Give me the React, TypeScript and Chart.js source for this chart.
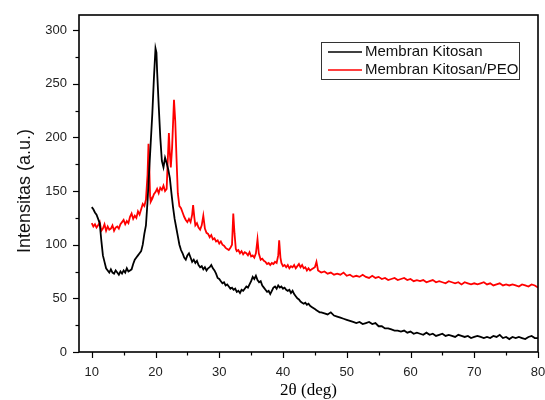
import React, { useEffect, useRef } from "react";
import { Chart, registerables } from "chart.js";

Chart.register(...registerables);

const angleTicks = [10, 20, 30, 40, 50, 60, 70, 80];
const intensityTicks = [0, 50, 100, 150, 200, 250, 300];
const seriesNames = ["Membran Kitosan", "Membran Kitosan/PEO"];

const kitosan: [number, number][] = [
  [10, 135], [10.25, 133], [10.5, 130], [10.75, 128], [11, 124], [11.25, 120], [11.5, 104], [11.75, 90],
  [12, 84], [12.25, 78], [12.5, 76], [12.75, 74], [13, 77], [13.25, 74], [13.5, 73], [13.75, 76],
  [14, 74], [14.25, 72], [14.5, 75], [14.75, 73], [15, 76], [15.25, 74], [15.5, 78], [15.75, 75],
  [16, 76], [16.25, 77], [16.5, 82], [16.75, 86], [17, 88], [17.25, 90], [17.5, 92], [17.75, 94],
  [18, 100], [18.25, 110], [18.5, 118], [18.75, 140], [19, 168], [19.25, 195], [19.5, 222], [19.75, 255],
  [20, 283], [20.15, 279], [20.25, 262], [20.5, 230], [20.75, 200], [21, 178], [21.25, 172], [21.5, 181],
  [21.75, 176], [22, 170], [22.25, 162], [22.5, 148], [22.75, 135], [23, 124], [23.25, 116], [23.5, 108],
  [23.75, 100], [24, 95], [24.25, 92], [24.5, 88], [24.75, 86], [25, 90], [25.25, 92], [25.5, 88],
  [25.75, 84], [26, 86], [26.25, 83], [26.5, 85], [26.75, 81], [27, 79], [27.25, 80], [27.5, 77],
  [27.75, 79], [28, 76], [28.25, 78], [28.5, 79], [28.75, 81], [29, 78], [29.25, 76], [29.5, 73],
  [29.75, 69], [30, 68], [30.25, 66], [30.5, 64], [30.75, 65], [31, 62], [31.25, 63], [31.5, 61],
  [31.75, 59], [32, 60], [32.25, 58], [32.5, 59], [32.75, 56], [33, 57], [33.25, 55], [33.5, 58],
  [33.75, 57], [34, 59], [34.25, 61], [34.5, 60], [34.75, 63], [35, 66], [35.25, 70], [35.5, 68],
  [35.75, 71], [36, 67], [36.25, 65], [36.5, 66], [36.75, 62], [37, 60], [37.25, 58], [37.5, 56],
  [37.75, 57], [38, 54], [38.25, 57], [38.5, 60], [38.75, 61], [39, 59], [39.25, 62], [39.5, 60],
  [39.75, 61], [40, 59], [40.25, 60], [40.5, 58], [40.75, 57], [41, 58], [41.25, 55], [41.5, 57],
  [41.75, 54], [42, 52], [42.25, 50], [42.5, 49], [42.75, 47], [43, 46], [43.25, 45], [43.5, 46],
  [43.75, 44], [44, 45], [44.25, 43], [44.5, 42], [44.75, 41], [45, 40], [45.25, 39], [45.5, 38],
  [45.75, 37], [46, 37], [46.5, 36], [47, 35], [47.5, 37], [48, 34], [48.5, 33], [49, 32],
  [49.5, 31], [50, 30], [50.5, 29], [51, 28], [51.5, 27], [52, 28], [52.5, 26], [53, 27],
  [53.5, 28], [54, 26], [54.5, 27], [55, 24], [55.5, 24], [56, 22], [56.5, 22], [57, 21],
  [57.5, 20], [58, 20], [58.5, 19], [59, 20], [59.5, 18], [60, 19], [60.5, 17], [61, 18],
  [61.5, 17], [62, 16], [62.5, 18], [63, 16], [63.5, 17], [64, 15], [64.5, 16], [65, 17],
  [65.5, 15], [66, 16], [66.5, 15], [67, 14], [67.5, 16], [68, 15], [68.5, 14], [69, 15],
  [69.5, 13], [70, 14], [70.5, 15], [71, 14], [71.5, 13], [72, 14], [72.5, 13], [73, 15],
  [73.5, 14], [74, 16], [74.5, 13], [75, 14], [75.5, 12], [76, 14], [76.5, 13], [77, 14],
  [77.5, 13], [78, 12], [78.5, 14], [79, 15], [79.5, 13], [80, 13],
];

const kitosanPeo: [number, number][] = [
  [10, 120], [10.25, 117], [10.5, 119], [10.75, 116], [11, 118], [11.25, 121], [11.5, 113], [11.75, 115],
  [12, 119], [12.25, 113], [12.5, 117], [12.75, 114], [13, 115], [13.25, 118], [13.5, 113], [13.75, 116],
  [14, 117], [14.25, 115], [14.5, 119], [14.75, 121], [15, 123], [15.25, 119], [15.5, 122], [15.75, 120],
  [16, 126], [16.25, 129], [16.5, 124], [16.75, 127], [17, 125], [17.25, 131], [17.5, 128], [17.75, 133],
  [18, 138], [18.25, 136], [18.5, 142], [18.75, 165], [18.9, 194], [19, 178], [19.15, 145], [19.25, 140],
  [19.5, 143], [19.75, 147], [20, 149], [20.25, 152], [20.5, 148], [20.75, 153], [21, 151], [21.25, 155],
  [21.5, 150], [21.75, 152], [21.9, 175], [22.1, 204], [22.25, 185], [22.4, 172], [22.6, 190], [22.9, 235],
  [23.1, 215], [23.3, 180], [23.5, 148], [23.75, 136], [24, 134], [24.25, 130], [24.5, 126], [24.75, 123],
  [25, 121], [25.25, 124], [25.5, 121], [25.75, 128], [25.9, 137], [26.1, 125], [26.25, 118], [26.5, 120],
  [26.75, 116], [27, 114], [27.25, 118], [27.5, 127], [27.75, 115], [28, 111], [28.25, 110], [28.5, 107],
  [28.75, 109], [29, 105], [29.25, 106], [29.5, 103], [29.75, 104], [30, 101], [30.25, 103], [30.5, 100],
  [30.75, 99], [31, 97], [31.25, 96], [31.5, 95], [31.75, 97], [32, 100], [32.2, 129], [32.4, 110],
  [32.6, 96], [32.75, 94], [33, 95], [33.25, 92], [33.5, 94], [33.75, 91], [34, 93], [34.25, 92],
  [34.5, 90], [34.75, 93], [35, 89], [35.25, 90], [35.5, 88], [35.75, 92], [36, 105], [36.2, 92],
  [36.5, 86], [36.75, 87], [37, 85], [37.25, 84], [37.5, 82], [37.75, 83], [38, 81], [38.25, 83],
  [38.5, 82], [38.75, 84], [39, 83], [39.25, 90], [39.4, 104], [39.6, 88], [39.75, 83], [40, 80],
  [40.25, 81], [40.5, 79], [40.75, 81], [41, 78], [41.25, 80], [41.5, 79], [41.75, 81], [42, 78],
  [42.25, 80], [42.5, 82], [42.75, 79], [43, 81], [43.25, 78], [43.5, 79], [43.75, 76], [44, 78],
  [44.25, 76], [44.5, 77], [44.75, 78], [45, 79], [45.25, 84], [45.5, 76], [45.75, 75], [46, 74],
  [46.5, 75], [47, 73], [47.5, 74], [48, 72], [48.5, 73], [49, 72], [49.5, 74], [50, 71],
  [50.5, 72], [51, 70], [51.5, 71], [52, 70], [52.5, 72], [53, 70], [53.5, 69], [54, 71],
  [54.5, 69], [55, 70], [55.5, 68], [56, 69], [56.5, 67], [57, 68], [57.5, 69], [58, 67],
  [58.5, 68], [59, 69], [59.5, 67], [60, 68], [60.5, 66], [61, 67], [61.5, 66], [62, 67],
  [62.5, 65], [63, 66], [63.5, 67], [64, 65], [64.5, 66], [65, 65], [65.5, 64], [66, 66],
  [66.5, 65], [67, 64], [67.5, 65], [68, 63], [68.5, 65], [69, 64], [69.5, 63], [70, 64],
  [70.5, 63], [71, 64], [71.5, 65], [72, 63], [72.5, 64], [73, 62], [73.5, 63], [74, 64],
  [74.5, 62], [75, 63], [75.5, 62], [76, 63], [76.5, 62], [77, 61], [77.5, 63], [78, 62],
  [78.5, 61], [79, 63], [79.5, 62], [80, 60],
];

const seriesColors = ["#000000", "#ff0000"];

const framePlugin = {
  id: "framePlugin",
  afterDraw(chart: any) {
    const { ctx, chartArea, scales } = chart;
    const { left, right, top, bottom } = chartArea;
    ctx.save();
    ctx.strokeStyle = "#000";
    ctx.lineWidth = 1.6;
    ctx.strokeRect(left, top, right - left, bottom - top);
    ctx.lineWidth = 1.2;
    for (let v = 0; v <= 300; v += 25) {
      const y = Math.round(scales.y.getPixelForValue(v)) + 0.5;
      const len = v % 50 === 0 ? 6 : 3.5;
      ctx.beginPath();
      ctx.moveTo(left - len, y);
      ctx.lineTo(left, y);
      ctx.stroke();
    }
    for (let v = 10; v <= 80; v += 5) {
      const x = Math.round(scales.x.getPixelForValue(v)) + 0.5;
      const len = v % 10 === 0 ? 6 : 3.5;
      ctx.beginPath();
      ctx.moveTo(x, bottom);
      ctx.lineTo(x, bottom + len);
      ctx.stroke();
    }
    ctx.fillStyle = "#000";
    ctx.font = "17px 'Liberation Serif'";
    ctx.textAlign = "center";
    ctx.textBaseline = "middle";
    ctx.fillText("2θ (deg)", (left + right) / 2, 391);
    ctx.save();
    ctx.translate(25, 191);
    ctx.rotate(-Math.PI / 2);
    ctx.font = "18px 'Liberation Sans'";
    ctx.fillStyle = "#111";
    ctx.fillText("Intensitas (a.u.)", 0, 0);
    ctx.restore();
    const bx = 321, by = 42, bw = 198, bh = 37;
    ctx.fillStyle = "#fff";
    ctx.fillRect(bx, by, bw, bh);
    ctx.strokeStyle = "#333";
    ctx.lineWidth = 1;
    ctx.strokeRect(bx + 0.5, by + 0.5, bw, bh);
    ctx.font = "15px 'Liberation Sans'";
    ctx.textAlign = "left";
    ctx.textBaseline = "middle";
    seriesNames.forEach((name, i) => {
      const cy = by + 10 + i * 18;
      ctx.strokeStyle = seriesColors[i];
      ctx.lineWidth = 1.5;
      ctx.beginPath();
      ctx.moveTo(328, cy);
      ctx.lineTo(362, cy);
      ctx.stroke();
      ctx.fillStyle = "#111";
      ctx.fillText(name, 365, cy);
    });
    ctx.restore();
  },
};

export default function App() {
  const ref = useRef<HTMLCanvasElement | null>(null);
  useEffect(() => {
    document.body.style.margin = "0";
    const canvas = ref.current;
    if (!canvas) return;
    const chart = new Chart(canvas, {
      type: "line",
      data: {
        datasets: [
          {
            label: seriesNames[0],
            data: kitosan.map(([x, y]) => ({ x, y })),
            borderColor: seriesColors[0],
            borderWidth: 1.8,
            pointRadius: 0,
            tension: 0,
          },
          {
            label: seriesNames[1],
            data: kitosanPeo.map(([x, y]) => ({ x, y })),
            borderColor: seriesColors[1],
            borderWidth: 1.8,
            pointRadius: 0,
            tension: 0,
          },
        ],
      },
      options: {
        responsive: false,
        animation: false,
        layout: { padding: { top: 15, right: 7, left: 0, bottom: 0 } },
        plugins: { legend: { display: false }, tooltip: { enabled: false } },
        scales: {
          x: {
            type: "linear",
            min: 8,
            max: 80,
            afterBuildTicks: (s: any) => {
              s.ticks = angleTicks.map((v) => ({ value: v }));
            },
            afterFit: (s: any) => {
              s.height = 48;
              s.paddingLeft = 0;
              s.paddingRight = 0;
            },
            grid: { display: false, drawTicks: false },
            border: { display: false },
            ticks: {
              padding: 13,
              maxRotation: 0,
              autoSkip: false,
              color: "#222",
              font: { family: "'Liberation Sans'", size: 13 },
            },
          },
          y: {
            min: 0,
            max: 314,
            afterBuildTicks: (s: any) => {
              s.ticks = intensityTicks.map((v) => ({ value: v }));
            },
            afterFit: (s: any) => {
              s.width = 79;
              s.paddingTop = 0;
              s.paddingBottom = 0;
            },
            grid: { display: false, drawTicks: false },
            border: { display: false },
            ticks: {
              padding: 12,
              autoSkip: false,
              color: "#222",
              font: { family: "'Liberation Sans'", size: 13 },
            },
          },
        },
      },
      plugins: [framePlugin],
    });
    return () => chart.destroy();
  }, []);
  return (
    <div style={{ width: 545, height: 400 }}>
      <canvas ref={ref} width={545} height={400} />
    </div>
  );
}
